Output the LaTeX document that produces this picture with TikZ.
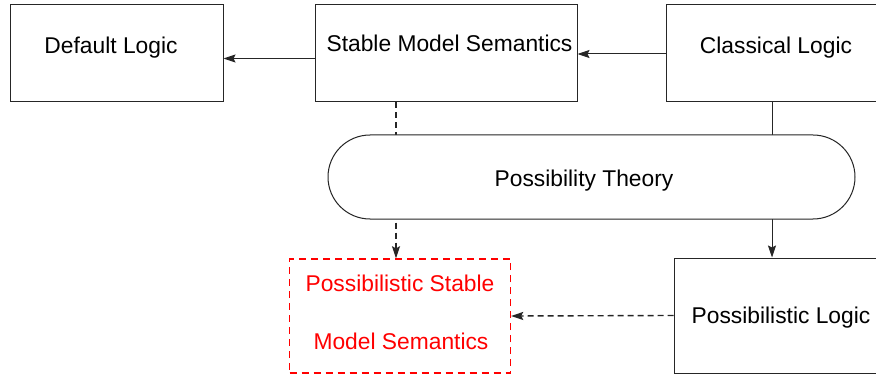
\documentclass[tikz,border=0pt]{standalone}
\usepackage{fontspec}
\setmainfont{Liberation Sans}
\usetikzlibrary{arrows.meta}
\begin{document}
\begin{tikzpicture}[x=1pt,y=-1pt,
  box/.style={draw=black!85, line width=1pt, inner sep=0pt, rectangle},
  lbl/.style={inner sep=0pt, anchor=base, font=\fontsize{22.8}{27}\selectfont},
  arr/.style={draw=black!85, line width=1pt, -{Stealth[length=12pt,width=8pt,inset=2pt]}},
  darr/.style={arr, line width=1.4pt, dash pattern=on 6pt off 4pt}
]
\useasboundingbox (0,0) rectangle (876,377);
\clip (0,0) rectangle (876,377);
\fill[white] (0,0) rectangle (876,377);

% boxes
\node[box, minimum width=213pt, minimum height=97pt] (dl) at (116.5,53.5) {};
\node[box, minimum width=262pt, minimum height=97pt] (sms) at (446,53.5) {};
\node[box, minimum width=224pt, minimum height=97pt] (cl) at (778,53.5) {};
\node[box, minimum width=216pt, minimum height=115pt] (pl) at (782,315.5) {};
\node[box, draw=red, line width=1.4pt, dash pattern=on 7pt off 5pt, minimum width=221pt, minimum height=114pt] (psms) at (400,316) {};

% connectors
\draw[arr] ([yshift=-5pt]sms.west) -- ([yshift=-5pt]dl.east);
\draw[arr] ([yshift=-0.5pt]cl.west) -- ([yshift=-0.5pt]sms.east);
\draw[darr] ([xshift=-50pt]sms.south) -- ([xshift=-50pt]sms.south |- psms.north);
\draw[arr] ([xshift=-6pt]cl.south) -- ([xshift=-6pt]cl.south |- pl.north);
\draw[darr] (pl.west) -- (psms.east);

% pill on top
\node[box, fill=white, rounded corners=42pt, minimum width=527pt, minimum height=84pt] (pt) at (591.5,177) {};

% labels
\node[lbl] (tdl) at (111,53.5) {Default Logic};
\node[lbl] (tsms) at (449.5,51.7) {Stable Model Semantics};
\node[lbl] (tcl) at (776,53.5) {Classical Logic};
\node[lbl] (tpt) at (584,186.7) {Possibility Theory};
\node[lbl, text=red] (tps1) at (400,291.7) {Possibilistic Stable};
\node[lbl, text=red] (tps2) at (401,349) {Model Semantics};
\node[lbl] (tpl) at (781,323.5) {Possibilistic Logic};
\end{tikzpicture}
\end{document}
